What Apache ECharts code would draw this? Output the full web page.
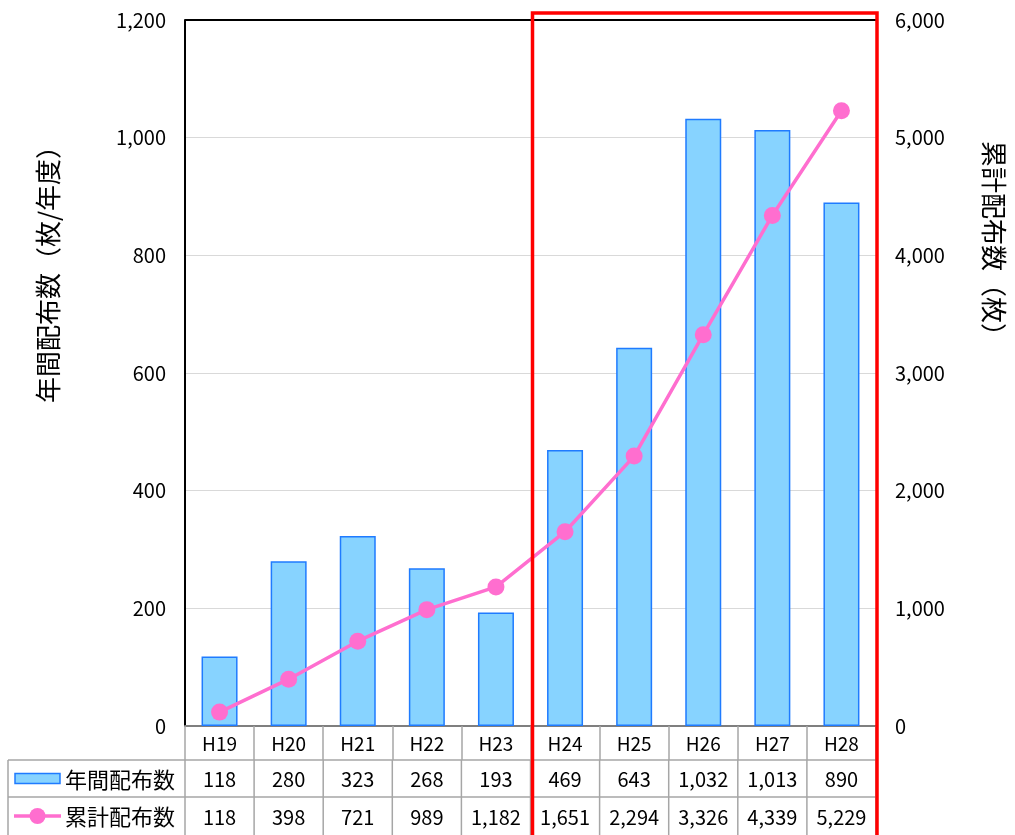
<!DOCTYPE html>
<html><head><meta charset="utf-8">
<script src="https://cdn.jsdelivr.net/npm/echarts@6/dist/echarts.min.js"></script>
<style>html,body{margin:0;padding:0;background:#fff}#c{width:1015px;height:835px}</style>
</head><body><div id="c"></div>
<script>
const categories = ['H19','H20','H21','H22','H23','H24','H25','H26','H27','H28'];
const annualValues = [118, 280, 323, 268, 193, 469, 643, 1032, 1013, 890];
const cumulativeValues = [118, 398, 721, 989, 1182, 1651, 2294, 3326, 4339, 5229];
const leftTicks = [0, 200, 400, 600, 800, 1000, 1200];
const rightTicks = [0, 1000, 2000, 3000, 4000, 5000, 6000];
const annualName = '年間配布数';
const cumulativeName = '累計配布数';
const leftAxisName = '年間配布数（枚/年度）';
const rightAxisName = '累計配布数（枚）';
const highlightFrom = 'H24';

const FONT = '"Noto Sans CJK JP", "Noto Sans", sans-serif';
const BAR_FILL = '#87D3FF', BAR_EDGE = '#1F7BFF', LINE_C = '#FF6ECF', GRID_C = '#A6A6A6';
const fmt = v => v.toLocaleString('en-US');

const chart = echarts.init(document.getElementById('c'));
const opt = {
  animation: false,
  backgroundColor: '#fff',
  grid: { left: 185, right: 139, top: 20, bottom: 109, containLabel: false },
  xAxis: {
    type: 'category', data: categories, boundaryGap: true,
    axisLine: { lineStyle: { color: '#7f7f7f', width: 2 } },
    axisTick: { show: true, length: 34, lineStyle: { color: GRID_C, width: 1.5 } },
    axisLabel: { fontFamily: FONT, fontSize: 19, color: '#000', margin: 8 }
  },
  yAxis: [
    { type: 'value', min: 0, max: 1200, interval: 200, position: 'left',
      axisLine: { show: true, lineStyle: { color: '#000', width: 2 } },
      axisTick: { show: false },
      axisLabel: { fontFamily: FONT, fontSize: 20, color: '#000', margin: 19, formatter: v => fmt(v) },
      splitLine: { show: true, lineStyle: { color: '#D9D9D9', width: 1 } } },
    { type: 'value', min: 0, max: 6000, interval: 1000, position: 'right',
      axisLine: { show: false }, axisTick: { show: false },
      axisLabel: { fontFamily: FONT, fontSize: 20, color: '#000', margin: 19, formatter: v => fmt(v) },
      splitLine: { show: false } }
  ],
  series: [
    { name: annualName, type: 'bar', data: annualValues, yAxisIndex: 0, barWidth: 36,
      itemStyle: { color: BAR_FILL, borderColor: BAR_EDGE, borderWidth: 1.5 }, z: 2 },
    { name: cumulativeName, type: 'line', data: cumulativeValues, yAxisIndex: 1,
      symbol: 'circle', symbolSize: 17, lineStyle: { color: LINE_C, width: 3.5 },
      itemStyle: { color: LINE_C }, z: 3 }
  ]
};
chart.setOption(opt);

// table + decorations
const centers = categories.map((c, i) => chart.convertToPixel({ xAxisIndex: 0 }, i));
const step = centers[1] - centers[0];
const x0 = centers[0] - step / 2, x1 = centers[centers.length - 1] + step / 2;
const yTop = chart.convertToPixel({ yAxisIndex: 0 }, 1200);
const yBase = chart.convertToPixel({ yAxisIndex: 0 }, 0);
const row1 = yBase + 34, row2 = row1 + 37, row3 = 835;
const tblLeft = 8;
const g = [];
const line = (xa, ya, xb, yb, color, w) => g.push({ type: 'line', shape: { x1: xa, y1: ya, x2: xb, y2: yb }, style: { stroke: color, lineWidth: w }, z: 10 });
const text = (x, y, t, align, size) => g.push({ type: 'text', x, y, style: { text: t, fontFamily: FONT, fontSize: size || 20, fill: '#000', align: align || 'center', verticalAlign: 'middle' }, z: 11 });

line(x0, yTop, x1, yTop, '#000', 2);
line(tblLeft, row1, x1, row1, GRID_C, 1.5);
line(tblLeft, row2, x1, row2, GRID_C, 1.5);
line(tblLeft, row1, tblLeft, row3, GRID_C, 1.5);
for (let i = 0; i <= categories.length; i++) {
  const x = x0 + i * step;
  line(x, row1, x, row3, GRID_C, 1.5);
}
const r1c = (row1 + row2) / 2, r2c = (row2 + row3) / 2;
categories.forEach((c, i) => {
  text(centers[i], r1c + 1, fmt(annualValues[i]));
  text(centers[i], r2c + 1, fmt(cumulativeValues[i]));
});
// legend keys
g.push({ type: 'rect', shape: { x: 15, y: r1c - 5, width: 45, height: 10 }, style: { fill: BAR_FILL, stroke: BAR_EDGE, lineWidth: 1.5 }, z: 11 });
text(65, r1c + 1, annualName, 'left', 22);
line(14, r2c, 61, r2c, LINE_C, 3.5);
g.push({ type: 'circle', shape: { cx: 37.5, cy: r2c, r: 8 }, style: { fill: LINE_C }, z: 11 });
text(65, r2c + 1, cumulativeName, 'left', 22);
// axis names
g.push({ type: 'text', x: 48, y: 268, rotation: Math.PI / 2, style: { text: leftAxisName, fontFamily: FONT, fontSize: 26, fill: '#000', align: 'center', verticalAlign: 'middle' }, z: 11 });
g.push({ type: 'text', x: 994, y: 245, rotation: -Math.PI / 2, style: { text: rightAxisName, fontFamily: FONT, fontSize: 26, fill: '#000', align: 'center', verticalAlign: 'middle' }, z: 11 });
// highlight frame
const hi = categories.indexOf(highlightFrom);
const hx = x0 + hi * step;
g.push({ type: 'rect', shape: { x: hx + 2, y: 13, width: x1 - hx - 1, height: 840 }, style: { fill: 'none', stroke: '#FF0000', lineWidth: 3.5 }, z: 20 });
chart.setOption({ graphic: g });
</script></body></html>
